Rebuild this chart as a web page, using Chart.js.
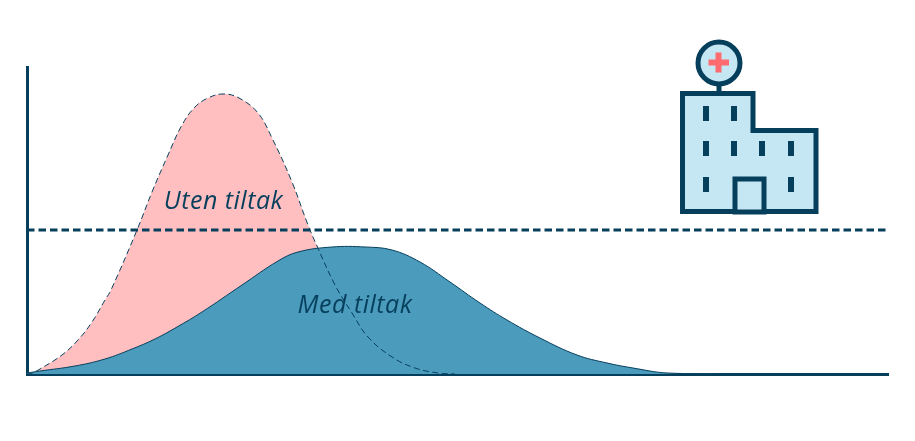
<!DOCTYPE html>
<html><head><meta charset="utf-8">
<style>html,body{margin:0;padding:0;background:#fff;overflow:hidden}canvas{display:block}</style>
<script src="https://cdn.jsdelivr.net/npm/chart.js@4"></script></head>
<body><canvas id="c" width="915" height="441"></canvas>
<script>
const utenX = [0,5,13,35,51,65,78,84,110,125,141,155,168,181,196,212,231,245,265,281,290,308,325,341,365,388,411,428];
const utenY = [0,1,5,19,34,52,74,84,144,182,219,249,267,276,280,276,261,236,192,149,128,89,61,37,17,6,1,0];
const medX = [0,13,48,78,105,128,150,175,215,251,271,305,338,365,393,423,453,480,513,550,580,606,640,701];
const medY = [1,3,8,15,25,35,47,62,89,113,122,127,127,124,112,92,71,54,36,19,11,6,1,0];
const thresholdX = [0,861];
const thresholdY = [144,144];
const labels = [{text:"Uten tiltak",x:196.5,y:172},{text:"Med tiltak",x:328,y:68}];
const DARK="#063f5c", PINK="#ffbfc0", TEAL="#4b9bbd";
const pts=(xs,ys)=>xs.map((x,i)=>({x,y:ys[i]}));
const decor={id:"decor",afterDatasetsDraw(ch){
  const c=ch.ctx,sx=ch.scales.x,sy=ch.scales.y;
  c.save();
  c.font='italic 25px "Open Sans"';c.letterSpacing="0.5px";c.fillStyle=DARK;c.textAlign="center";c.textBaseline="middle";
  labels.forEach(l=>c.fillText(l.text,sx.getPixelForValue(l.x),sy.getPixelForValue(l.y)));
  c.letterSpacing="0px";
  c.strokeStyle=DARK;c.lineWidth=5;c.lineJoin="miter";
  c.beginPath();c.moveTo(719,85);c.lineTo(719,93);c.stroke();
  c.fillStyle="#c5e6f3";
  c.beginPath();c.arc(719,63,21,0,Math.PI*2);c.fill();c.stroke();
  c.beginPath();c.moveTo(682.5,93.5);c.lineTo(753,93.5);c.lineTo(753,130.5);c.lineTo(816,130.5);c.lineTo(816,211.5);c.lineTo(682.5,211.5);c.closePath();c.fill();c.stroke();
  c.beginPath();c.rect(735,179,29,33);c.fill();c.stroke();
  c.fillStyle=DARK;
  [[703,106],[731,106],[703,141],[731,141],[759,141],[788,141],[703,177],[788,177]].forEach(w=>c.fillRect(w[0],w[1],6,15));
  c.fillStyle="#ff6b6f";
  c.fillRect(708.5,59.5,20.5,6);c.fillRect(715.5,52.5,6,20);
  c.restore();
}};
new Chart(document.getElementById("c"),{
  type:"line",
  data:{datasets:[
    {data:pts(thresholdX,thresholdY),borderColor:DARK,borderWidth:3,borderDash:[7.5,4],pointRadius:0,fill:false,order:1},
    {data:pts(utenX,utenY),borderColor:DARK,borderWidth:1,borderDash:[6,3.5],pointRadius:0,fill:false,tension:0.4,order:2},
    {data:pts(medX,medY),borderColor:DARK,borderWidth:1,backgroundColor:TEAL,pointRadius:0,fill:"origin",tension:0.4,order:3},
    {data:pts(utenX,utenY),borderWidth:0,borderColor:"rgba(0,0,0,0)",backgroundColor:PINK,pointRadius:0,fill:"origin",tension:0.4,order:4}
  ]},
  options:{responsive:false,animation:false,parsing:false,clip:false,
    layout:{padding:0},
    plugins:{legend:{display:false},tooltip:{enabled:false},title:{display:false}},
    scales:{
      x:{type:"linear",min:0,max:861,z:1,grid:{display:false,drawTicks:false},ticks:{display:false},border:{display:true,color:DARK,width:3},
         afterFit(s){s.height=67;}},
      y:{type:"linear",min:0,max:307,z:1,grid:{display:false,drawTicks:false},ticks:{display:false},border:{display:true,color:DARK,width:3},
         afterFit(s){s.width=27;}}
    }
  },
  plugins:[decor,{id:"pad",beforeLayout(ch){ch.options.layout.padding={top:67,right:27,bottom:0,left:0};}}]
});
</script></body></html>
